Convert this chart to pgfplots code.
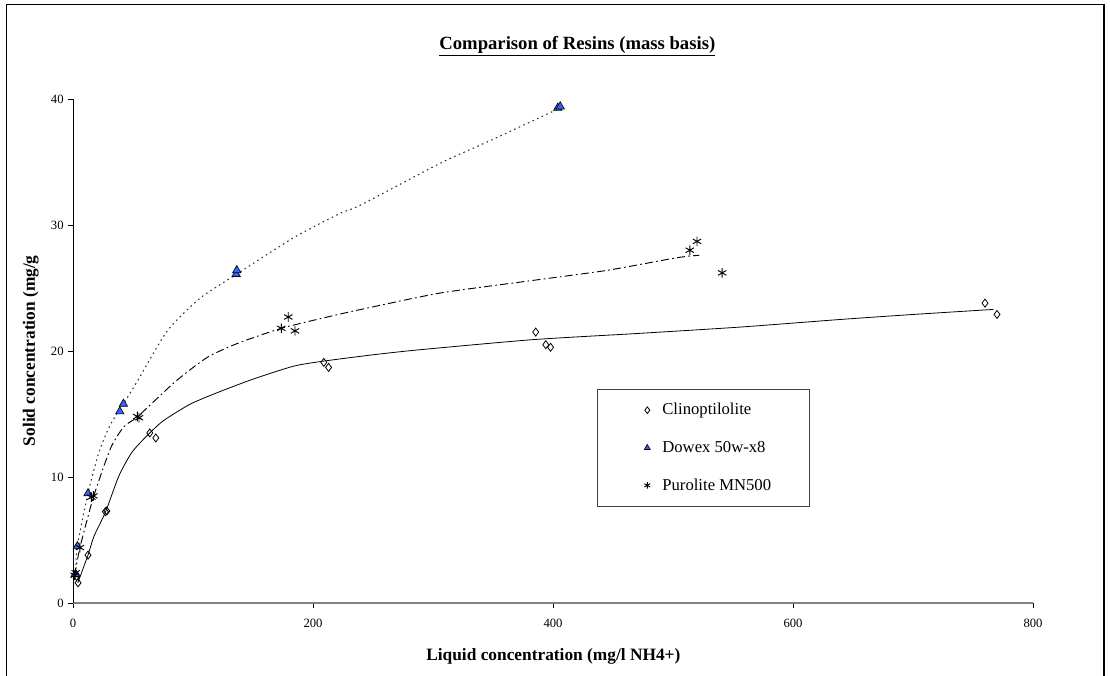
\documentclass[border=0pt]{standalone}
\usepackage{fontspec}
\setmainfont{Liberation Serif}
\usepackage{pgfplots}
\pgfplotsset{compat=1.18}
\definecolor{dowexblue}{RGB}{51,102,255}
\definecolor{axisgray}{RGB}{128,128,128}
\pgfplotsset{legimg/.style={legend image code/.code={\path (-34pt,0pt) (9pt,0pt); \draw[##1, mark size=2.5pt] plot coordinates {(0pt,0pt)};}}}
\begin{document}
\begin{tikzpicture}
\useasboundingbox (0,0) rectangle (832.5pt,-506.25pt);
\draw[line width=1.2pt] (5pt,-3.5pt) rectangle (828pt,-530pt);
\node[font=\bfseries\fontsize{14}{16}\selectfont] at (433pt,-35pt) {\underline{Comparison of Resins (mass basis)}};
\node[font=\bfseries\fontsize{13}{15}\selectfont] at (415pt,-492pt) {Liquid concentration (mg/l NH4+)};
\node[font=\bfseries\fontsize{13}{15}\selectfont, rotate=90] at (23pt,-263pt) {Solid concentration (mg/g};
\begin{axis}[
  at={(54.75pt,-452.25pt)}, anchor=south west,
  scale only axis, width=720pt, height=378pt,
  xmin=0, xmax=800, ymin=0, ymax=40,
  axis x line=bottom, axis y line=left,
  axis line style={-},
  x axis line style={draw=axisgray, line width=0.9pt},
  y axis line style={draw=black, line width=0.6pt},
  xtick={0,200,400,600,800}, ytick={0,10,20,30,40},
  tick align=outside, major tick length=3.5pt,
  tick style={black, line width=0.5pt},
  ticklabel style={font=\fontsize{9.5}{11}\selectfont},
  xticklabel style={yshift=-5pt},
  /pgf/number format/assume math mode=true,
  legimg,
  legend style={at={(0.546,0.4246)}, anchor=north west, draw=black!75, line width=0.6pt,
    font=\fontsize{12.5}{14}\selectfont, inner ysep=8.5pt, row sep=14.2pt},
  legend cell align=left,
  clip=false,
]
% data series
\addplot[only marks, mark=diamond, mark size=3pt, mark options={draw=black, fill=white, line width=0.6pt}] coordinates {
(4.2,1.6) (3,2.1) (12.5,3.8) (27,7.25) (28.2,7.3) (64,13.5) (69,13.1) (209,19.1) (213,18.7)
(385.6,21.5) (394,20.5) (398,20.3) (760,23.8) (770,22.9)};
\addlegendentry{Clinoptilolite}
\addplot[only marks, mark=triangle*, mark size=3.6pt, mark options={draw=black, fill=dowexblue, line width=0.5pt}] coordinates {
(2,2.3) (3.6,4.5) (12.5,8.7) (39,15.2) (42,15.8) (136,26.1) (136.5,26.4) (404,39.3) (406,39.4)};
\addlegendentry{Dowex 50w-x8}
\addplot[only marks, mark=asterisk, mark size=3.6pt, mark options={draw=black, line width=0.7pt}] coordinates {
(1.4,2.2) (2.2,2.4) (5.8,4.4) (15.3,8.4) (17,8.5) (53.6,14.8) (55,14.7) (173.6,21.8) (179.4,22.7) (185,21.6)
(514,28.0) (520,28.7) (541,26.2)};
\addlegendentry{Purolite MN500\rule{24pt}{0pt}}
% trend curves
\addplot[forget plot, black, line width=0.6pt, smooth, tension=0.4] coordinates {
(4,1.6) (12.5,3.8) (17.5,5.3) (27.2,7.25) (38.3,10.1) (49.4,12.0) (64,13.5) (75.8,14.5) (98,15.8)
(123,16.8) (151,17.8) (184,18.8) (209,19.2) (250,19.7) (289,20.1) (383,20.9) (472,21.4) (556,21.9) (639,22.5) (700,22.9) (767,23.3)};
\addplot[forget plot, black!80, line width=0.8pt, dash pattern=on 1.2pt off 2.6pt, smooth, tension=0.4] coordinates {
(2,2.2) (3.6,4.5) (12.5,8.7) (21.7,12.0) (31.4,14.2) (42,15.8) (53.6,17.6) (78.6,21.6) (106,24.2)
(136.4,26.1) (184,29.0) (222,30.9) (240,31.6) (306,34.9) (350,36.8) (404,39.2)};
\addplot[forget plot, black, line width=0.7pt, dash pattern=on 6pt off 2.5pt on 1.2pt off 2.5pt, smooth, tension=0.4] coordinates {
(1.4,2.2) (5.8,4.4) (17,8.4) (31.4,12.3) (42.5,14.0) (54,14.8) (85.6,17.6) (112,19.5) (137,20.6)
(173.6,21.8) (212,22.7) (240,23.3) (306,24.6) (383,25.6) (445,26.4) (503,27.4) (522,27.6)};
\end{axis}
\end{tikzpicture}
\end{document}
